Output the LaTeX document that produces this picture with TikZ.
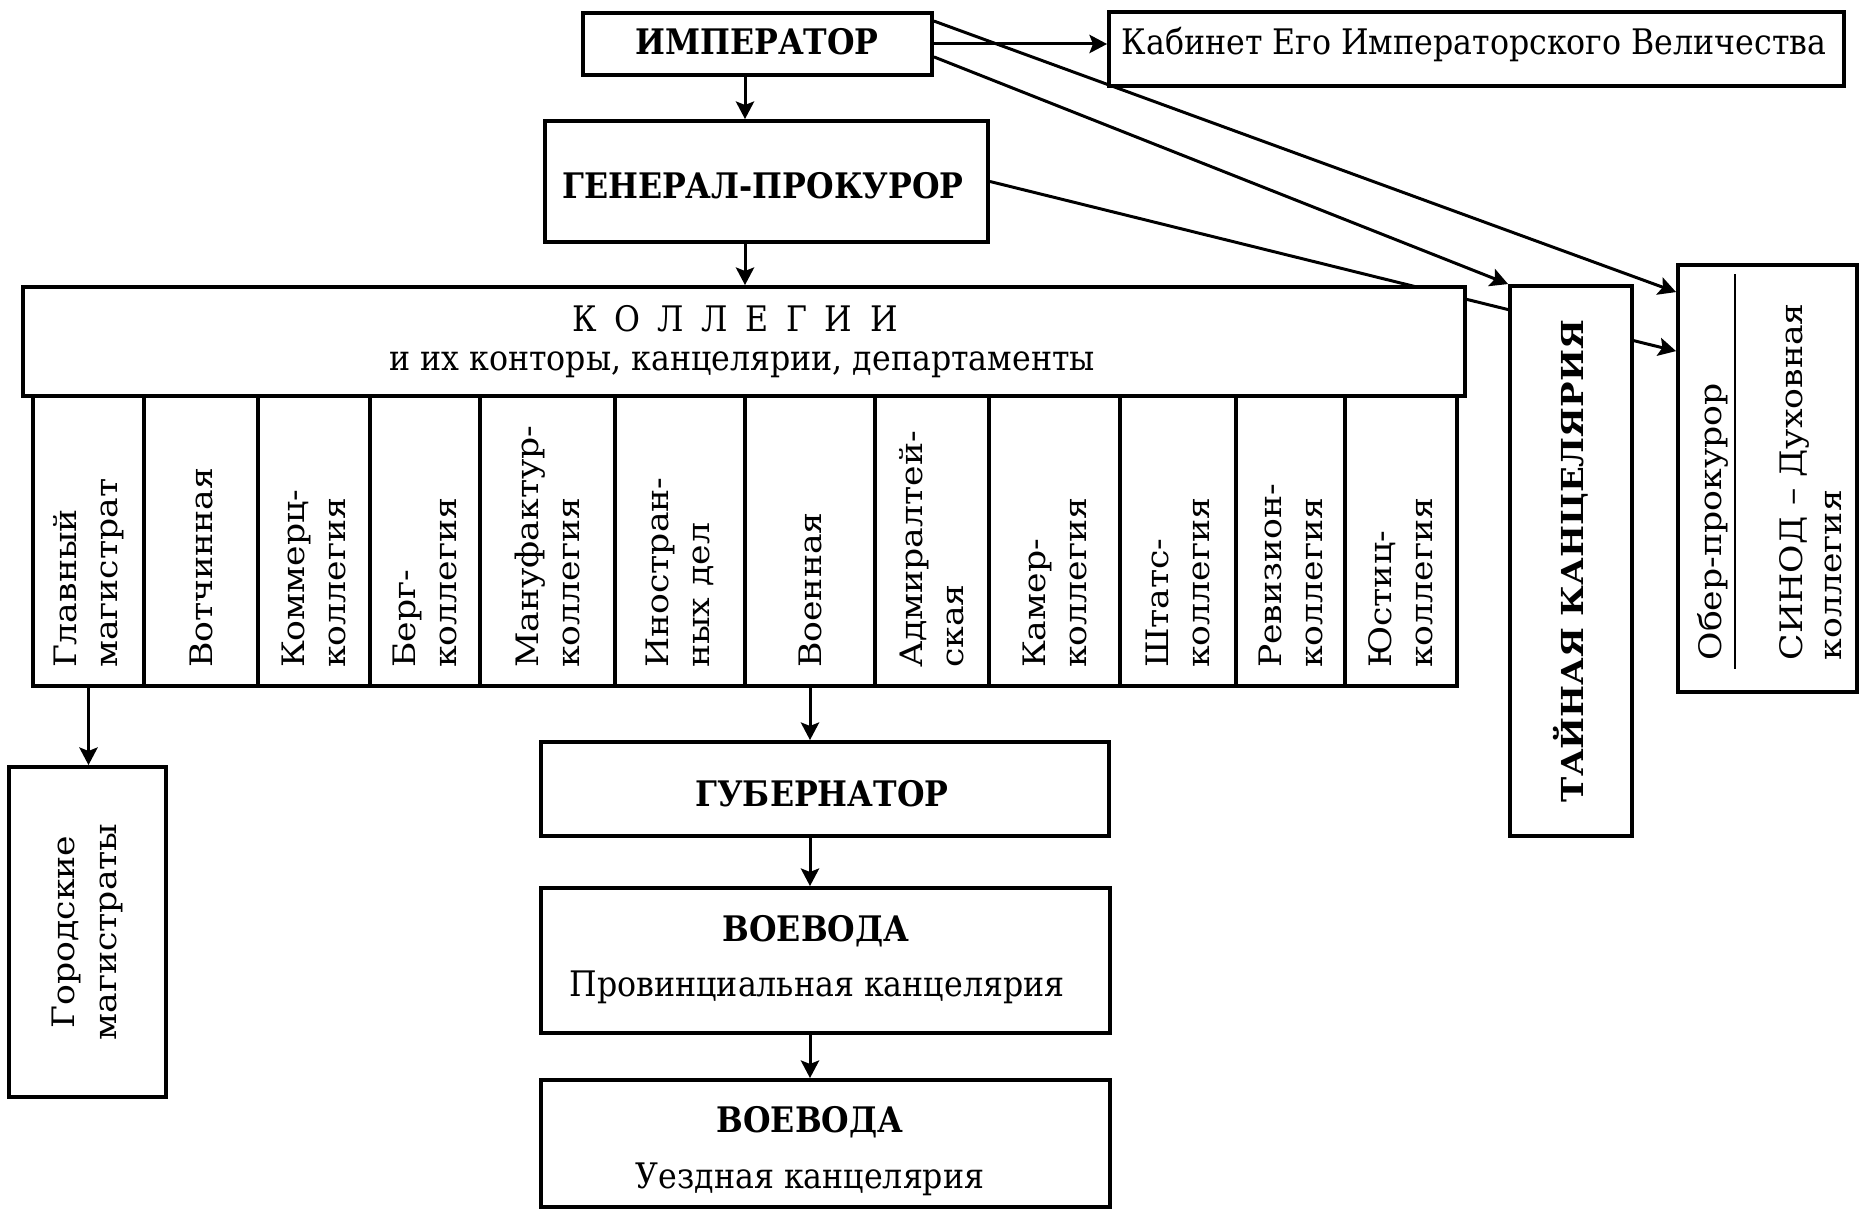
\documentclass[tikz,border=0pt]{standalone}
\usepackage{fontspec}
\setmainfont{DejaVu Serif}
\newfontfamily\hfont[FakeStretch=0.9]{DejaVu Serif}
\newfontfamily\vfont[FakeStretch=1.12]{DejaVu Serif}
\usetikzlibrary{arrows.meta,fit,calc}
\begin{document}
\begin{tikzpicture}[x=0.01cm,y=-0.01cm,
  mybox/.style={draw,line width=1.1pt,fill=white,inner sep=0pt},
  colbox/.style={draw,line width=0.95pt,inner sep=0pt},
  conn/.style={line width=0.85pt,-{Stealth[length=5pt,width=5.2pt,inset=1pt]}},
  thinline/.style={line width=0.6pt},
  ht/.style={font=\hfont\fontsize{10}{12}\selectfont,inner sep=0pt,anchor=base},
  hb/.style={font=\hfont\bfseries\fontsize{10}{12}\selectfont,inner sep=0pt,anchor=base},
  vt/.style={font=\vfont\fontsize{8.8}{11.7}\selectfont,inner sep=0pt,rotate=90},
  vb/.style={font=\vfont\bfseries\fontsize{8.6}{11.7}\selectfont,inner sep=0pt,rotate=90},
]
\useasboundingbox (0,0) rectangle (1860,1213);

% top boxes
\node[mybox,fit={(583,13) (932,75)}] (imp) {};
\node[hb] (impt) at (757,55) {ИМПЕРАТОР};
\node[mybox,fit={(1109,12) (1844,86)}] (kab) {};
\node[ht] (kabt) at (1474,55) {Кабинет Его Императорского Величества};
\node[mybox,fit={(545,121) (988,242)}] (gp) {};
\node[hb] (gpt) at (763,199) {ГЕНЕРАЛ-ПРОКУРОР};
\node[mybox,fit={(1678,265) (1857,692)}] (syn) {};

% line from General-procurator to Synod (passes behind boxes)
\draw[conn] (gp.east) -- ([yshift=-0.88cm]syn.north west);

% Collegia
\node[mybox,fit={(23,287) (1465,396)}] (koll) {};
\node[ht] (kollt1) at (735,332) {К\hskip0.5emО\hskip0.5emЛ\hskip0.5emЛ\hskip0.5emЕ\hskip0.5emГ\hskip0.5emИ\hskip0.5emИ};
\node[ht] (kollt2) at (742,371) {и их конторы, канцелярии, департаменты};

% Secret chancellery
\node[mybox,fit={(1510,286) (1632,836)}] (tain) {};
\node[vb] (taint) at (tain.center) {ТАЙНАЯ КАНЦЕЛЯРИЯ};

% Synod contents
\draw[thinline] ($(syn.north west)+(59,11)$) -- ($(syn.south west)+(59,-25)$);
\node[vt,anchor=base west] (syna) at (1721,661) {Обер-прокурор};
\node[vt,anchor=base west] (synb) at (1802,661) {СИНОД – Духовная};
\node[vt,anchor=base west] (sync) at (1841,661) {коллегия};

% columns
\foreach \n/\l/\r/\t in {1/33/144/{Главный\\магистрат},
  2/144/258/{Вотчинная},
  3/258/370/{Коммерц-\\коллегия},
  4/370/480/{Берг-\\коллегия},
  5/480/615/{Мануфактур-\\коллегия},
  6/615/745/{Иностран-\\ных дел},
  7/745/875/{Военная},
  8/875/989/{Адмиралтей-\\ская},
  9/989/1120/{Камер-\\коллегия},
  10/1120/1236/{Штатс-\\коллегия},
  11/1236/1345/{Ревизион-\\коллегия},
  12/1345/1457/{Юстиц-\\коллегия}}{
  \node[colbox,fit={(\l,396) (\r,686)}] (col\n) {};
  \node[vt,align=left,anchor=west] (colt\n) at ($(col\n.south)+(0,-19)$) {\t};
}

% lower boxes
\node[mybox,fit={(9,767) (166,1097)}] (gor) {};
\node[vt,align=center] (gort) at (gor.center) {Городские\\магистраты};
\node[mybox,fit={(541,742) (1109,836)}] (gub) {};
\node[hb] (gubt) at (822,807) {ГУБЕРНАТОР};
\node[mybox,fit={(541,888) (1110,1033)}] (voa) {};
\node[hb] (voat) at (816,942) {ВОЕВОДА};
\node[ht] (voab) at (817,996) {Провинциальная канцелярия};
\node[mybox,fit={(541,1080) (1110,1207)}] (vob) {};
\node[hb] (vobt) at (810,1133) {ВОЕВОДА};
\node[ht] (vobb) at (810,1188) {Уездная канцелярия};

% connectors
\coordinate (xa) at (745,0);
\draw[conn] (imp.east) -- (imp.east -| kab.west);
\draw[conn] (imp.south -| xa) -- (gp.north -| xa);
\draw[conn] (gp.south -| xa) -- (koll.north -| xa);
\draw[conn] ([yshift=-0.1cm]imp.north east) -- ([yshift=-0.29cm]syn.north west);
\draw[conn] ([yshift=0.2cm]imp.south east) -- (tain.north west);
\draw[conn] (col1.south) -- (col1.south |- gor.north);
\draw[conn] (col7.south) -- (col7.south |- gub.north);
\draw[conn] (gub.south -| col7.south) -- (voa.north -| col7.south);
\draw[conn] (voa.south -| col7.south) -- (vob.north -| col7.south);
\end{tikzpicture}
\end{document}
